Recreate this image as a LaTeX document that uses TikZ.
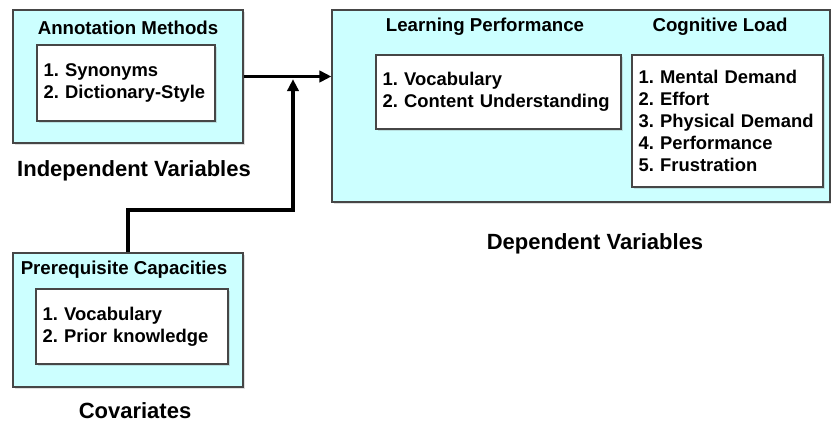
\documentclass[tikz,border=0pt]{standalone}
\usepackage{fontspec}
\setmainfont{Liberation Sans}
\usetikzlibrary{arrows.meta,shadows}
\frenchspacing

\definecolor{boxcyan}{RGB}{204,255,255}
\definecolor{boxline}{RGB}{70,70,70}

\tikzset{every picture/.style={line width=0.75pt}}
\tikzset{
  groupbox/.style={draw=boxline, fill=boxcyan, line width=0.9pt, inner sep=0pt,
    drop shadow={opacity=0.25, shadow xshift=1.2pt, shadow yshift=-1.2pt}},
  listbox/.style={draw=boxline, fill=white, line width=0.9pt, inner xsep=5pt, inner ysep=0pt,
    align=left, font=\bfseries\fontsize{13.8}{16.5}\selectfont,
    drop shadow={opacity=0.25, shadow xshift=1.2pt, shadow yshift=-1.2pt}},
  boxtitle/.style={font=\bfseries\fontsize{14}{16}\selectfont, inner sep=0pt},
  varlabel/.style={font=\bfseries\fontsize{16.5}{19}\selectfont, inner sep=0pt},
  flow/.style={line width=2.3pt, -{Triangle[length=9pt,width=8.5pt]}}
}

\begin{document}
\begin{tikzpicture}[x=0.75pt,y=0.75pt,yscale=-1,xscale=1]
\useasboundingbox (0,0) rectangle (831,425);

%Independent variables
\node[groupbox, minimum width=172.5pt, minimum height=99.75pt] (annot) at (128,76.5) {};
\node[boxtitle] (annottitle) at (128,28) {Annotation Methods};
\node[listbox, text width=123.5pt, minimum height=57pt] (annotlist) at (126,83) {1. Synonyms\\2. Dictionary-Style};
\node[varlabel] (indep) at (134,171) {Independent Variables};

%Dependent variables
\node[groupbox, minimum width=373.5pt, minimum height=144pt] (dep) at (581,106) {};
\node[boxtitle] (lptitle) at (485,27) {Learning Performance};
\node[listbox, text width=173.75pt, minimum height=55.5pt] (lplist) at (498.5,92) {1. Vocabulary\\2. Content Understanding};
\node[boxtitle] (cltitle) at (720,27) {Cognitive Load};
\node[listbox, text width=133.25pt, minimum height=99pt] (cllist) at (727.5,121) {1. Mental Demand\\2. Effort\\3. Physical Demand\\4. Performance\\5. Frustration};
\node[varlabel] (deplabel) at (595,244) {Dependent Variables};

%Covariates
\node[groupbox, minimum width=172.5pt, minimum height=100.5pt] (prereq) at (128,320) {};
\node[boxtitle] (prereqtitle) at (124,270) {Prerequisite Capacities};
\node[listbox, text width=134pt, minimum height=56.25pt] (prereqlist) at (132,326.5) {1. Vocabulary\\2. Prior knowledge};
\node[varlabel] (covar) at (135,411) {Covariates};

%Connectors
\coordinate (join) at (293,76.5);
\coordinate (bend) at (293,210);
\draw[flow] (annot.east) -- (dep.west |- annot.east);
\draw[flow, shorten >=2pt] (prereq.north) |- (bend) -- (join);
\end{tikzpicture}
\end{document}
